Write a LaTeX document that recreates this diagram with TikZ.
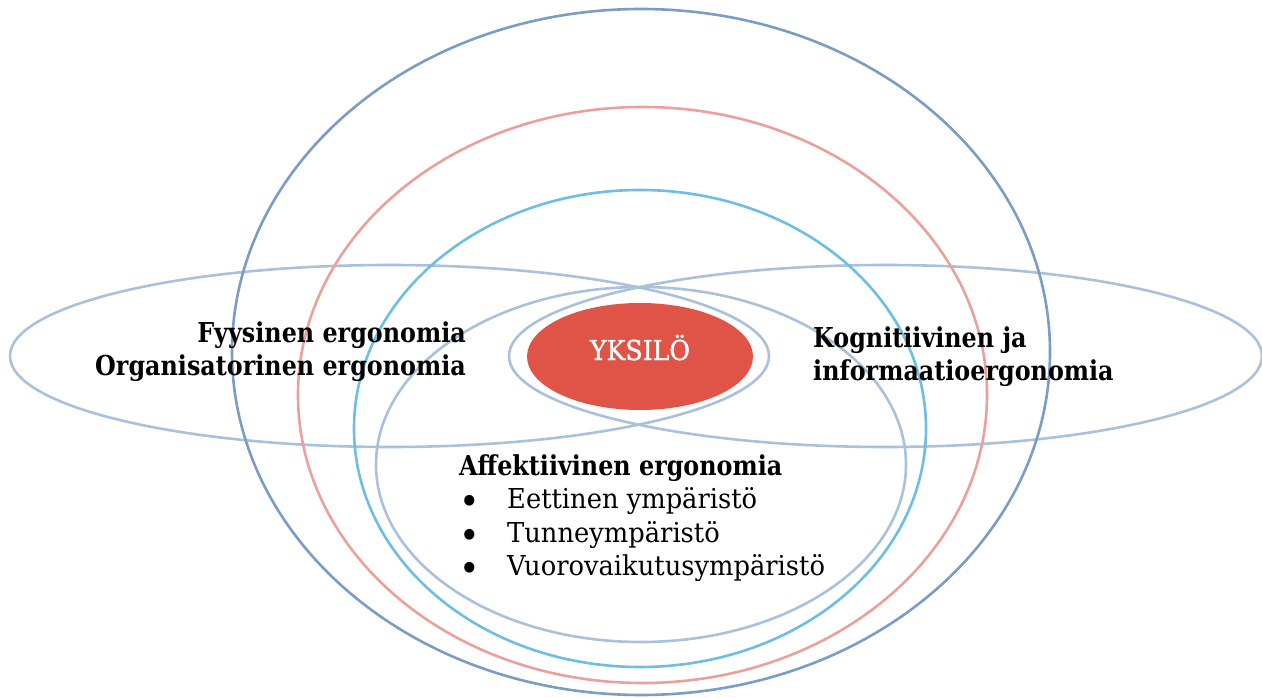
\documentclass[tikz,border=0pt]{standalone}
\usepackage{fontspec}
\setmainfont{DejaVu Serif}[FakeStretch=0.94, BoldFeatures={FakeStretch=0.87}]
\newfontfamily\centrefont{DejaVu Serif}[FakeStretch=0.92, FakeBold=1.2]
\usetikzlibrary{shapes.geometric}
\definecolor{outerc}{RGB}{123,156,198}
\definecolor{pinkc}{RGB}{236,160,155}
\definecolor{cyanc}{RGB}{110,190,228}
\definecolor{greyc}{RGB}{170,193,220}
\definecolor{redc}{RGB}{224,84,72}
\newcommand{\bulletmark}{\makebox[48pt][l]{\raisebox{-6.5pt}[9pt][0pt]{\scalebox{1.35}{\textbullet}}}}
\begin{document}
\begin{tikzpicture}[x=1pt,y=-1pt,
  ring/.style={line width=2.6pt},
  head/.style={inner sep=0pt, font=\fontsize{27.4}{33}\selectfont\bfseries},
  item/.style={inner sep=0pt, font=\fontsize{27.4}{33}\selectfont}]
\useasboundingbox (0,0) rectangle (1262,698);
% the two wide ellipses across the middle; their inner tips frame the centre
\draw[ring, greyc] (389.5,356) ellipse [x radius=379.5pt, y radius=91pt];
\draw[ring, greyc] (885.5,356) ellipse [x radius=376.5pt, y radius=91pt];
% nested rings
\draw[ring, outerc] (641,352) ellipse [x radius=409pt, y radius=343pt];
\draw[ring, pinkc] (642.5,395) ellipse [x radius=344.5pt, y radius=288pt];
\draw[ring, cyanc] (640,428.5) ellipse [x radius=286pt, y radius=238.5pt];
\draw[ring, greyc] (641,464.5) ellipse [x radius=265pt, y radius=177.5pt];
% the individual at the centre
\node[ellipse, fill=redc, draw=none, inner sep=0pt, minimum width=226pt, minimum height=107pt,
      text=white, font=\fontsize{27.4}{33}\centrefont, text height=20pt, text depth=13pt]
      (yksilo) at (640,356.5) {YKSILÖ};
% labels
\node[head, anchor=base east] (fys1) at (466,342) {Fyysinen ergonomia};
\node[head, anchor=base east] (fys2) at (466,375) {Organisatorinen ergonomia};
\node[head, anchor=base west] (kog1) at (813,347) {Kognitiivinen ja};
\node[head, anchor=base west] (kog2) at (813,380) {informaatioergonomia};
\node[head, anchor=base west] (aff) at (459,475) {Affektiivinen ergonomia};
\node[item, anchor=base west] (aff1) at (459,508) {\bulletmark Eettinen ympäristö};
\node[item, anchor=base west] (aff2) at (459,542) {\bulletmark Tunneympäristö};
\node[item, anchor=base west] (aff3) at (459,575) {\bulletmark Vuorovaikutusympäristö};
\end{tikzpicture}
\end{document}
